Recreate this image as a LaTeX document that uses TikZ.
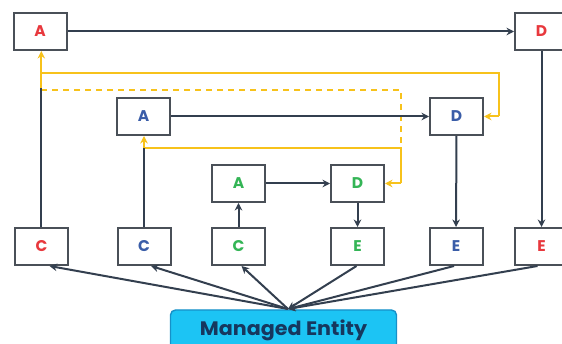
\documentclass[tikz,border=0pt]{standalone}
\usepackage{fontspec}
\setmainfont{Poppins}
\newfontfamily\mefont{Poppins}[FakeStretch=1.06]
\usetikzlibrary{arrows.meta,calc}
\definecolor{cred}{HTML}{E8383D}
\definecolor{cblue}{HTML}{3A5DA8}
\definecolor{cgreen}{HTML}{34B556}
\definecolor{boxline}{HTML}{4A5058}
\definecolor{conn}{HTML}{333F4F}
\definecolor{cyel}{HTML}{F7C21B}
\definecolor{ccyan}{HTML}{1CC4F4}
\definecolor{ccyanb}{HTML}{1690C8}
\definecolor{cnavy}{HTML}{16375E}
\tikzset{
  box/.style={draw=boxline, line width=2pt, fill=white, minimum width=53pt, minimum height=37pt, inner sep=0pt, font=\fontsize{15.5}{15.5}\selectfont\bfseries},
  conline/.style={draw=conn, line width=2pt},
  conarrow/.style={conline, -{Stealth[length=7.5pt,width=7.5pt]}},
  yel/.style={draw=cyel, line width=2pt},
  yelarrow/.style={yel, -{Stealth[length=7.5pt,width=7.5pt]}},
  yeldash/.style={yel, dash pattern=on 6pt off 5pt},
  entity/.style={draw=ccyanb, line width=1.4pt, fill=ccyan, rounded corners=5pt, minimum width=226pt, minimum height=40pt, inner sep=0pt, text=cnavy, font=\mefont\fontsize{19.5}{19.5}\selectfont\bfseries}
}
\begin{document}
\begin{tikzpicture}[x=1pt,y=-1pt]
\useasboundingbox (0,0) rectangle (562,344);
\clip (0,0) rectangle (562,344);
\fill[white] (0,0) rectangle (562,344);
% top row
\node[box, text=cred] (rA) at (40,31.5) {A};
\node[box, text=cred] (rD) at (541.5,31.5) {D};
% middle row
\node[box, text=cblue] (bA) at (143.5,116.5) {A};
\node[box, text=cblue] (bD) at (456.5,116.5) {D};
% inner row
\node[box, text=cgreen] (gA) at (238.5,183.5) {A};
\node[box, text=cgreen] (gD) at (357.5,183.5) {D};
% bottom row
\node[box, text=cred] (rC) at (41.5,246.5) {C};
\node[box, text=cblue] (bC) at (144,246.5) {C};
\node[box, text=cgreen] (gC) at (238.5,246.5) {C};
\node[box, text=cgreen] (gE) at (357.5,246.5) {E};
\node[box, text=cblue] (bE) at (456,246.5) {E};
\node[box, text=cred] (rE) at (541.5,246.5) {E};
% managed entity
\node[entity] (me) at (283.5,330) {Managed Entity};
\coordinate (mt) at (288,309);
% junction coordinates
\coordinate (rj) at (41.3,88);
\coordinate (ry) at (41.3,73);
\coordinate (bj) at (144,148);
\coordinate (ycorner1) at (499,73);
\coordinate (ycorner2) at (401,90);
\coordinate (ycorner3) at (401,148);
% yellow paths
\draw[yelarrow] (rj) -- (rA.south -| rj);
\draw[yel] (ry) -- (ycorner1) -- (ycorner1 |- bD.east) coordinate (bDe);
\draw[yelarrow] (bDe) -- (bD.east);
\draw[yeldash] (41.3,90) -- (ycorner2) -- (ycorner3);
\draw[yel] (bj) -- (ycorner3) -- (ycorner3 |- gD.east) coordinate (gDe);
\draw[yelarrow] (gDe) -- (gD.east);
\draw[yelarrow] (bj) -- (bA.south -| bj);
% gray verticals
\draw[conline] (rC.north -| rj) -- (rj);
\draw[conline] (bC.north) -- (bj);
% dark arrows
\draw[conarrow] (gC) -- (gA);
\draw[conarrow] (gA) -- (gD);
\draw[conarrow] (gD) -- (gE);
\draw[conarrow] (bA) -- (bD);
\draw[conarrow] (bD) -- (bE);
\draw[conarrow] (rA) -- (rD);
\draw[conarrow] (rD.south) -- (rE.north);
% fan to managed entity
\draw[conarrow] (mt) -- ([xshift=8pt]rC.south);
\draw[conarrow] (mt) -- ([xshift=7pt]bC.south);
\draw[conarrow] (mt) -- ([xshift=3pt]gC.south);
\draw[conarrow] ([xshift=-1pt]gE.south) -- (mt);
\draw[conarrow] ([xshift=-2pt]bE.south) -- (mt);
\draw[conarrow] ([xshift=-4pt]rE.south) -- (mt);
\end{tikzpicture}
\end{document}
